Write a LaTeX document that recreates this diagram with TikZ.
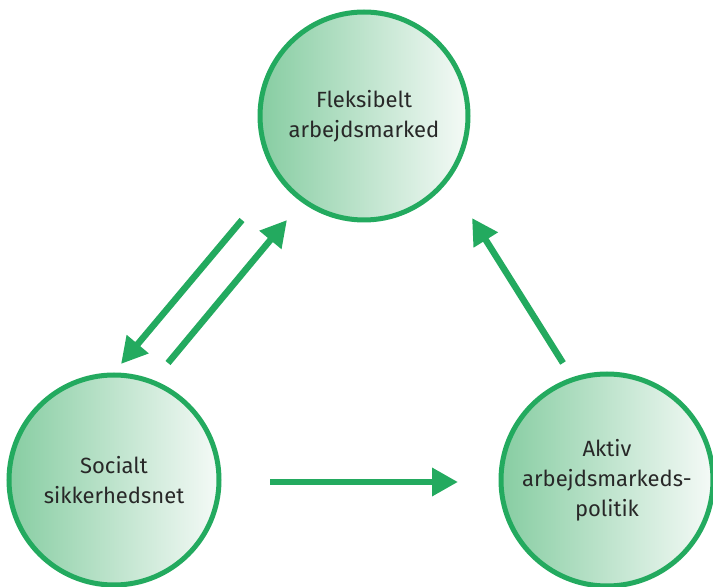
\documentclass[tikz,border=0pt]{standalone}
\usepackage{fontspec}
\setmainfont{Fira Sans}
\usetikzlibrary{arrows.meta}
\definecolor{gline}{RGB}{35,170,95}
\definecolor{gfill}{RGB}{135,205,162}
\definecolor{gwhite}{RGB}{245,250,247}
\definecolor{txt}{RGB}{40,40,40}
\tikzset{
  bubble/.style={circle, draw=gline, line width=5pt, left color=gfill, right color=gwhite,
    shading=axis, shading angle=90, text=txt, align=center,
    font=\fontsize{22}{30}\selectfont, inner sep=0pt},
  conn/.style={draw=gline, line width=6.5pt, -{Triangle[length=26pt,width=27pt]}},
}
\begin{document}
\begin{tikzpicture}[x=1pt,y=1pt]
\useasboundingbox (0,0) rectangle (713,587);
\node[bubble, minimum size=208pt] (top) at (364,471) {Fleksibelt\\arbejdsmarked};
\node[bubble, minimum size=210pt] (left) at (114,107) {Socialt\\sikkerhedsnet};
\node[bubble, minimum size=212pt] (right) at (607,107) {Aktiv\\arbejdsmarkeds-\\politik};
\coordinate (a1s) at (242,367);
\coordinate (a1e) at (121,223);
\coordinate (a2s) at (168,224);
\coordinate (a2e) at (287,367);
\coordinate (a3s) at (563,224);
\coordinate (a3e) at (472,369);
\coordinate (a4s) at (270,105);
\coordinate (a4e) at (458,105);
\draw[conn] (a1s) -- (a1e);
\draw[conn] (a2s) -- (a2e);
\draw[conn] (a3s) -- (a3e);
\draw[conn] (a4s) -- (a4e);
\end{tikzpicture}
\end{document}
